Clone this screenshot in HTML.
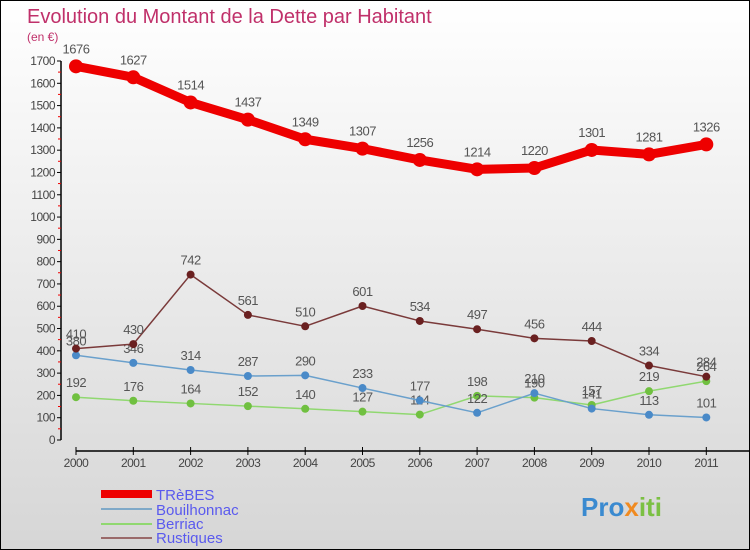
<!DOCTYPE html>
<html><head><meta charset="utf-8"><style>
body{margin:0}
#c{width:750px;height:550px;position:relative;box-sizing:border-box;border:1px solid #000;background:linear-gradient(#fff,#d6d6d6);font-family:"Liberation Sans",sans-serif;overflow:hidden}
</style></head><body>
<div id="c">
<svg id="s" width="748" height="548" xmlns="http://www.w3.org/2000/svg">
<text x="26" y="22" font-size="20" fill="#c0306a" font-weight="normal">Evolution du Montant de la Dette par Habitant</text>
<text x="26" y="40" font-size="12" fill="#c0306a">(en €)</text>
<g id="axes"></g><g id="series"></g>
<g>
<rect x="100" y="489" width="51" height="8" fill="#e00"/>
<text x="155" y="499" font-size="15" fill="#5a5aee">TRèBES</text>
<line x1="100" y1="508" x2="151" y2="508" stroke="#7fa9c8" stroke-width="2"/>
<text x="155" y="514" font-size="15" fill="#5a5aee">Bouilhonnac</text>
<line x1="100" y1="523" x2="151" y2="523" stroke="#90d870" stroke-width="2"/>
<text x="155" y="528" font-size="15" fill="#5a5aee">Berriac</text>
<line x1="100" y1="537" x2="151" y2="537" stroke="#9a6a6a" stroke-width="2"/>
<text x="155" y="542" font-size="15" fill="#5a5aee">Rustiques</text>
</g>
<text x="580" y="515" font-size="26" font-weight="bold" fill="#3a8ad0">Pro<tspan fill="#f08a20">x</tspan><tspan fill="#7bc043">iti</tspan></text>
</svg>
</div>
<script>
const years=[2000,2001,2002,2003,2004,2005,2006,2007,2008,2009,2010,2011];
const trebes=[1676,1627,1514,1437,1349,1307,1256,1214,1220,1301,1281,1326];
const bouilhonnac=[380,346,314,287,290,233,177,122,210,141,113,101];
const berriac=[192,176,164,152,140,127,114,198,190,157,219,264];
const rustiques=[410,430,742,561,510,601,534,497,456,444,334,284];
const yTicks=[0,100,200,300,400,500,600,700,800,900,1000,1100,1200,1300,1400,1500,1600,1700];
const NS="http://www.w3.org/2000/svg";
const X=i=>75+i*57.3, Y=v=>439-v*(379/1700);
function mk(t,a,p){const e=document.createElementNS(NS,t);for(const k in a)e.setAttribute(k,a[k]);p.appendChild(e);return e;}
const ax=document.getElementById('axes'), se=document.getElementById('series');
let l=mk('line',{x1:60,y1:Y(1700),x2:60,y2:439,stroke:'#000','stroke-width':1.5},ax);


yTicks.forEach(v=>{
 const y=Y(v);
 mk('line',{x1:56,y1:y,x2:60,y2:y,stroke:'#000'},ax);
 if(v>0) mk('line',{x1:57,y1:y+11.1,x2:60,y2:y+11.1,stroke:'#e00'},ax);
 const t=mk('text',{x:54,y:y+4,'font-size':12,'text-anchor':'end',fill:'#444','letter-spacing':'-0.5'},ax);
 t.textContent=v;
 
 
});
l=mk('line',{x1:75,y1:450,x2:748,y2:450,stroke:'#000','stroke-width':1.5},ax);


years.forEach((yr,i)=>{
 mk('line',{x1:X(i),y1:446,x2:X(i),y2:454,stroke:'#000'},ax);
 const t=mk('text',{x:X(i),y:466,'font-size':12,'text-anchor':'middle',fill:'#444','letter-spacing':'-0.5'},ax);
 t.textContent=yr;
 
 
});
function series(data,name,color,dot,w,r){
 const g=mk('g',{},se);
 
 
 const p=mk('polyline',{points:data.map((v,i)=>X(i)+','+Y(v)).join(' '),fill:'none',stroke:color,'stroke-width':w,'stroke-linejoin':'round'},g);
 
 
 data.forEach((v,i)=>{
  const c=mk('circle',{cx:X(i),cy:Y(v),r:r,fill:dot},g);
  
  
  const t=mk('text',{x:X(i),y:Y(v)-(r+6),'font-size':13,'text-anchor':'middle',fill:'#555','letter-spacing':'-0.5'},g);
  t.textContent=v;
  
  
 });
}
series(berriac,'berriac','#90d870','#70c040',1.5,4);
series(bouilhonnac,'bouilhonnac','#6aa0cc','#4a8ac8',1.5,4);
series(rustiques,'rustiques','#7a3a3a','#6a2020',1.5,4);
series(trebes,'trebes','#ee0000','#ee0000',9,7);
</script>
</body></html>
